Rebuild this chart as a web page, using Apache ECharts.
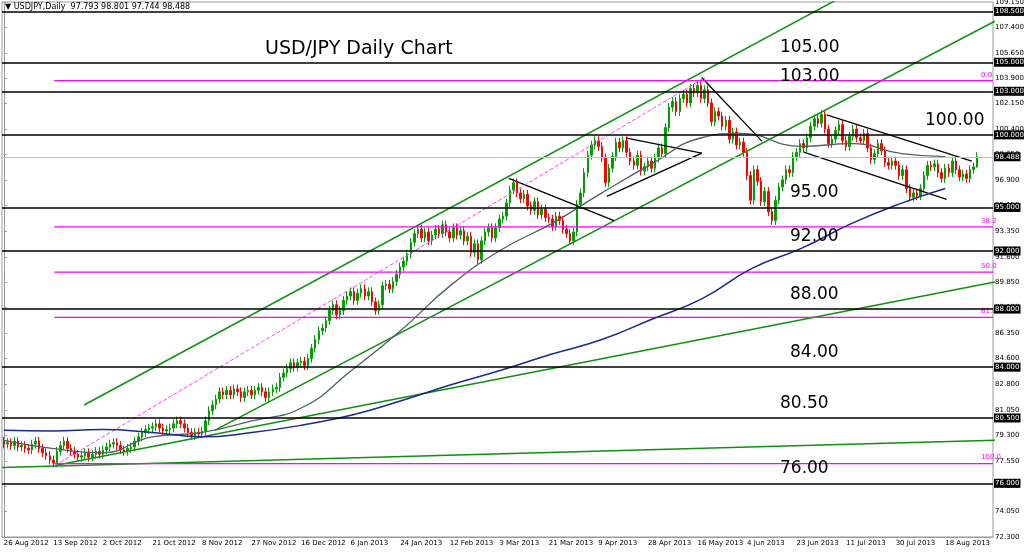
<!DOCTYPE html>
<html>
<head>
<meta charset="utf-8">
<script src="https://cdn.jsdelivr.net/npm/echarts@6/dist/echarts.min.js"></script>
<style>html,body{margin:0;padding:0;background:#fff}#main{width:1024px;height:552px}</style>
</head>
<body>
<div id="main"></div>
<script>
// daily closes, one per bar
var closes = [
  78.7,78.8,78.6,78.9,78.5,78.6,78.4,78.3,78.7,78.9,78.4,78.1,77.9,77.6,
  77.4,78.2,78.6,78.9,78.4,78.2,78.0,77.8,77.9,78.1,77.8,78.0,78.2,78.0,
  78.3,78.5,78.7,78.8,78.6,78.3,78.2,78.4,78.5,78.9,79.2,79.5,79.7,79.8,
  79.9,80.1,79.8,79.6,79.7,79.8,80.1,80.3,80.1,79.8,79.5,79.3,79.5,79.4,
  79.6,80.3,81.0,81.4,81.8,82.3,82.1,82.4,82.1,82.5,82.3,81.9,82.3,82.4,
  82.1,82.4,82.6,82.3,81.9,82.3,82.5,82.6,83.3,83.6,83.9,84.3,84.0,84.3,
  84.4,84.1,84.6,85.3,85.9,86.5,86.7,87.2,87.9,88.3,87.6,87.9,88.6,88.9,
  89.2,88.6,89.1,89.4,88.9,89.2,88.5,87.9,88.3,89.6,89.7,89.4,89.9,90.4,
  90.9,91.3,91.8,92.6,93.2,93.5,92.9,93.3,92.7,93.1,93.5,93.2,93.8,93.3,
  92.9,93.6,93.1,93.4,92.7,93.0,91.9,92.5,91.4,92.7,93.3,93.6,92.9,93.6,
  94.2,94.4,95.3,96.2,96.7,96.0,95.6,95.9,95.1,94.8,95.4,94.5,94.9,94.3,
  94.2,93.7,94.4,94.1,93.5,93.2,92.7,93.3,95.2,96.0,97.4,98.6,99.3,99.6,
  99.2,98.4,96.7,97.7,98.5,99.5,99.1,99.6,98.8,98.2,97.9,98.6,97.5,97.8,
  98.2,97.7,98.4,99.1,98.7,100.5,101.9,102.3,101.6,102.5,102.8,102.2,103.2,102.9,
  103.4,102.5,103.1,102.2,100.9,101.6,101.3,100.6,101.0,99.7,100.2,99.3,99.5,98.8,
  97.2,95.5,97.6,96.8,95.4,96.1,94.7,94.1,95.5,96.4,96.9,97.6,97.4,98.5,
  98.8,99.4,99.1,99.8,100.6,101.1,100.8,101.4,100.4,99.4,99.7,100.3,100.7,99.6,
  99.2,99.9,100.4,99.8,99.6,100.1,99.1,98.3,98.7,99.4,98.9,98.1,97.9,98.2,
  97.9,97.2,97.6,96.3,95.7,96.0,95.8,96.3,97.2,97.9,97.8,98.0,97.4,97.0,
  97.7,97.4,98.2,97.6,97.1,97.3,97.0,97.6,97.793,98.488
];
var tickLabels = ['26 Aug 2012','13 Sep 2012','2 Oct 2012','21 Oct 2012','8 Nov 2012','27 Nov 2012',
  '16 Dec 2012','6 Jan 2013','24 Jan 2013','12 Feb 2013','3 Mar 2013','21 Mar 2013','9 Apr 2013',
  '28 Apr 2013','16 May 2013','4 Jun 2013','23 Jun 2013','11 Jul 2013','30 Jul 2013','18 Aug 2013'];
var priceTicks = [72.3,74.05,75.8,77.55,79.3,81.05,82.8,84.6,86.35,88.1,89.85,91.6,93.35,95.15,96.9,98.65,100.4,102.15,103.9,105.65,107.4,109.15];
var levels = ['108.500','105.000','103.000','100.000','95.000','92.000','88.000','84.000','80.500','76.000'];
var lastPrice = '98.488';
var levelTexts = [[105,'105.00',780],[103,'103.00',780],[100,'100.00',925],[95,'95.00',790],[92,'92.00',790],
  [88,'88.00',790],[84,'84.00',790],[80.5,'80.50',780],[76,'76.00',780]];
var fibLevels = [[103.73,'0.0'],[93.66,'38.2'],[90.55,'50.0'],[87.43,'61.8'],[77.36,'100.0']];
// moving averages, [bar, price]
var maSlow = [[0,79.65],[13.6,79.6],[27.7,79.7],[41.9,79.5],[56,79.2],[70.1,79.5],[84.2,80.0],[98.4,80.7],
  [112.5,81.7],[126.6,82.8],[140.7,83.8],[154.9,84.9],[169,85.9],[183.1,87.3],[197.2,88.7],[211.4,90.8],
  [225.5,92.2],[239.6,93.9],[253.7,95.3],[266,96.3]];
var maFast = [[0,78.96],[13.6,78.4],[27.7,78.1],[41.9,79.2],[56,79.5],[70.1,80.3],[84.2,81.2],[98.4,83.8],
  [112.5,86.6],[126.6,89.7],[140.7,92.1],[154.9,93.9],[169,96.0],[183.1,98.0],[197.2,99.8],[208,100.1],
  [225.5,99.2],[239.6,99.4],[253.7,98.7],[266,98.5]];
var greenLines = [
  [[22.7,81.39],[236.8,109.5]],
  [[59.7,79.66],[280,107.83]],
  [[14.5,77.23],[280,89.86]],
  [[-0.5,77.09],[280,78.96]]
];
var blackLines = [
  [[142.7,97.0],[172.4,94.09]],
  [[170.4,95.76],[197.2,98.74]],
  [[176,99.78],[197.2,98.74]],
  [[197.2,103.95],[214.2,99.57]],
  [[232.5,101.38],[273.5,98.19]],
  [[226,98.81],[266.4,95.55]]
];
var fibDiag = [[14.5,77.23],[198.1,103.95]];

var N = 280;
var cats = [], candles = [];
for (var i = 0; i < N; i++) {
  cats.push(i);
  if (i < closes.length) {
    var o = i ? closes[i - 1] : 78.9, c = closes[i];
    candles.push([o, c, Math.min(o, c) - 0.3, Math.max(o, c) + 0.3]);
  } else candles.push('-');
}
candles[closes.length - 1] = [97.793, 98.488, 97.744, 98.801];

var chart = echarts.init(document.getElementById('main'));
var font = 'DejaVu Sans';
var series = [{
  type: 'candlestick', data: candles, barWidth: 2,
  itemStyle: { color: '#00a000', color0: '#ff0000', borderColor: '#00a000', borderColor0: '#ff0000', borderWidth: 1 },
  markLine: {
    symbol: 'none', silent: true,
    label: { position: 'end', color: '#fff', backgroundColor: '#000', fontSize: 7, fontFamily: font, padding: [1, 1], distance: 1,
      formatter: function (p) { return p.name; } },
    data: levels.map(function (v) { return { name: v, yAxis: +v, lineStyle: { color: '#000', width: 1.5, type: 'solid' } }; })
      .concat([{ name: lastPrice, yAxis: +lastPrice, lineStyle: { color: '#c0c0c0', width: 1, type: 'solid' } }])
  }
}];
greenLines.forEach(function (l) {
  series.push({ type: 'line', xAxisIndex: 1, data: l, symbol: 'none', lineStyle: { color: '#109010', width: 1.5 }, silent: true });
});
blackLines.forEach(function (l) {
  series.push({ type: 'line', xAxisIndex: 1, data: l, symbol: 'none', lineStyle: { color: '#000', width: 1.3 }, silent: true });
});
series.push({ type: 'line', xAxisIndex: 1, data: fibDiag, symbol: 'none', lineStyle: { color: '#ff40ff', width: 1, type: 'dashed' }, silent: true });
fibLevels.forEach(function (f) {
  series.push({ type: 'line', xAxisIndex: 1, data: [[14.3, f[0]], [279.5, f[0]]], symbol: 'none',
    lineStyle: { color: '#ff00ff', width: 1.3 }, silent: true,
    endLabel: { show: true, formatter: f[1], color: '#ff00ff', fontSize: 7, fontFamily: font, offset: [-20, -6] } });
});
series.push({ type: 'line', xAxisIndex: 1, data: maFast, symbol: 'none', smooth: true, lineStyle: { color: '#506060', width: 1.3 }, silent: true });
series.push({ type: 'line', xAxisIndex: 1, data: maSlow, symbol: 'none', smooth: true, lineStyle: { color: '#1a2a8a', width: 1.5 }, silent: true });

var graphics = [
  { type: 'text', left: 265, top: 40, style: { text: 'USD/JPY Daily Chart', font: '19px "' + font + '"', fill: '#000' } },
  { type: 'text', left: 5, top: 3, style: { text: '\u25BC USDJPY,Daily  97.793 98.801 97.744 98.488', font: '8px "' + font + '"', fill: '#000' } }
];
levelTexts.forEach(function (t) {
  graphics.push({ type: 'text', left: t[2], top: 0, z: 100,
    style: { text: t[1], font: '17px "' + font + '"', fill: '#000' }, _v: t[0] });
});

chart.setOption({
  animation: false,
  backgroundColor: '#fff',
  grid: { left: 2, right: 31, top: 2, bottom: 15, show: true, borderColor: '#999', borderWidth: 1, outerBoundsMode: 'none', containLabel: false },
  xAxis: [{
    type: 'category', data: cats, boundaryGap: true,
    axisLine: { lineStyle: { color: '#999' } },
    axisTick: { interval: 13, lineStyle: { color: '#999' } },
    axisLabel: { interval: 13, align: 'left', margin: 3, fontSize: 7, fontFamily: font, color: '#000', showMinLabel: true, hideOverlap: false,
      formatter: function (v, i) { return tickLabels[i / 14] || ''; } },
    splitLine: { show: false }
  }, {
    type: 'value', min: -0.5, max: 279.5, show: false
  }],
  yAxis: {
    type: 'value', position: 'right', min: 72.3, max: 109.15, scale: true,
    axisLine: { show: true, lineStyle: { color: '#999' } },
    axisTick: { show: true, length: 3, customValues: priceTicks, lineStyle: { color: '#999' } },
    axisLabel: { customValues: priceTicks, fontSize: 7, fontFamily: font, color: '#000', margin: 2,
      formatter: function (v) { return v.toFixed(3); } },
    splitLine: { show: false }
  },
  series: series
});
// place the big level texts just above their lines
var gr = graphics.map(function (g) {
  if (g._v !== undefined) {
    g.top = chart.convertToPixel({ yAxisIndex: 0 }, g._v) - 23;
    delete g._v;
  }
  return g;
});
chart.setOption({ graphic: gr });
</script>
</body>
</html>
